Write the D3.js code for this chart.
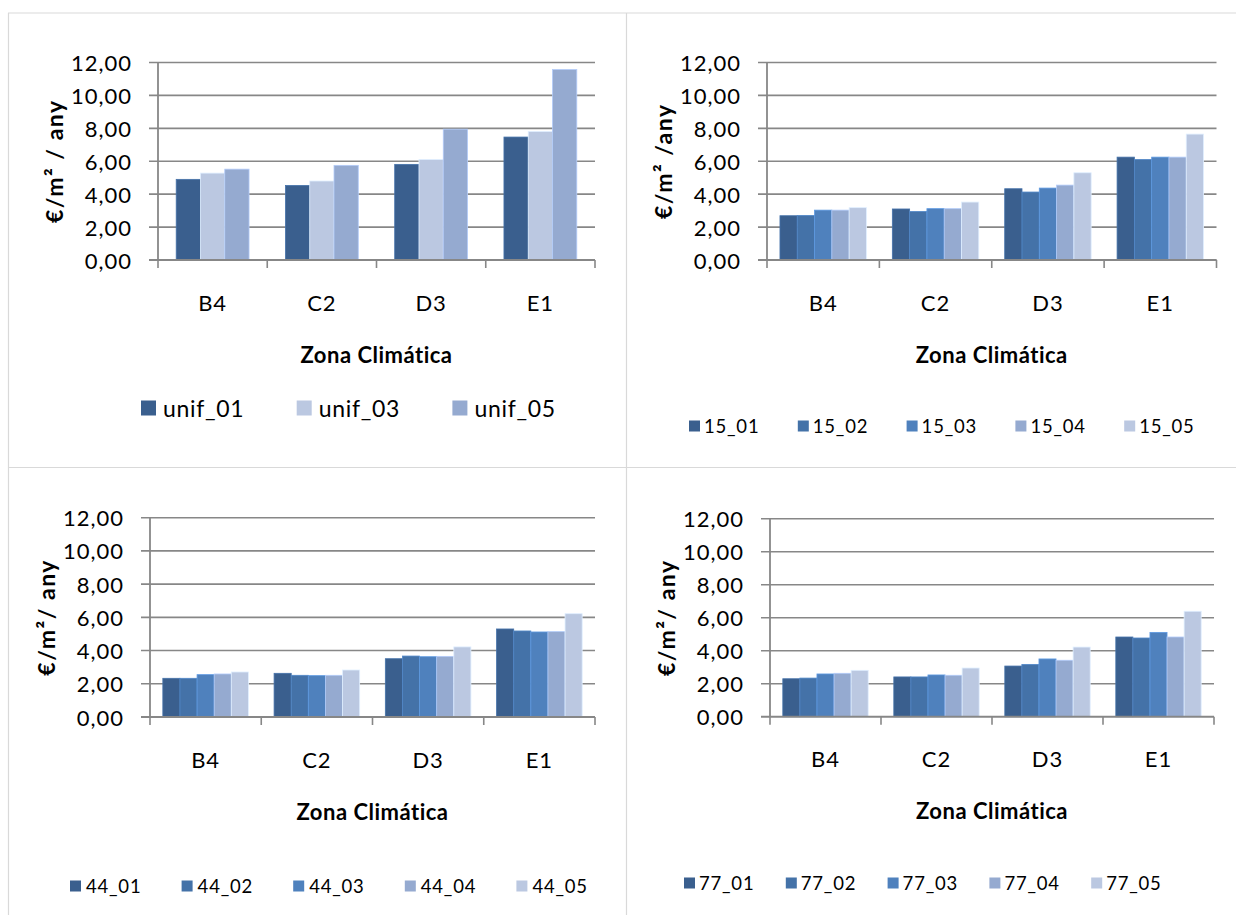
<!DOCTYPE html>
<html>
<head>
<meta charset="utf-8">
<script src="https://cdn.jsdelivr.net/npm/d3@7"></script>
<style>
  html, body { margin: 0; padding: 0; background: #ffffff; }
  svg { display: block; }
  text { font-family: Lato, "Open Sans", "Noto Sans", sans-serif; fill: #000; }
</style>
</head>
<body>
<svg id="chart" width="1236" height="915"></svg>
<script>
// Climate zones on the x axis and the value-axis ticks shared by every panel
const categories = ["B4", "C2", "D3", "E1"];
const yTicks = [0, 2, 4, 6, 8, 10, 12];

// Panel A: uniform cases
const seriesUnif = ["unif_01", "unif_03", "unif_05"];
const valuesUnif = [
  [4.90, 4.53, 5.81, 7.47],
  [5.28, 4.80, 6.11, 7.81],
  [5.52, 5.75, 7.95, 11.57]
];

// Panel B: 15 cases
const series15 = ["15_01", "15_02", "15_03", "15_04", "15_05"];
const values15 = [
  [2.69, 3.10, 4.33, 6.25],
  [2.71, 2.95, 4.13, 6.11],
  [3.03, 3.12, 4.37, 6.25],
  [3.03, 3.12, 4.55, 6.25],
  [3.18, 3.52, 5.30, 7.65]
];

// Panel C: 44 cases
const series44 = ["44_01", "44_02", "44_03", "44_04", "44_05"];
const values44 = [
  [2.33, 2.63, 3.51, 5.30],
  [2.33, 2.51, 3.67, 5.18],
  [2.55, 2.49, 3.63, 5.12],
  [2.59, 2.51, 3.65, 5.14],
  [2.71, 2.83, 4.22, 6.22]
];

// Panel D: 77 cases
const series77 = ["77_01", "77_02", "77_03", "77_04", "77_05"];
const values77 = [
  [2.30, 2.41, 3.07, 4.83],
  [2.34, 2.41, 3.17, 4.77],
  [2.59, 2.53, 3.50, 5.11],
  [2.63, 2.51, 3.42, 4.83],
  [2.81, 2.95, 4.22, 6.39]
];

const colorsUnif = ["#3A5F8E", "#BBC8E1", "#95AAD0"];
const colorsFive = ["#3A5F8E", "#4472A8", "#4F81BD", "#95AAD0", "#BBC8E1"];

const svg = d3.select("#chart");
const GRID = "#878787";

// Frame lines separating the four chart areas
const frame = svg.append("g").attr("stroke", "#d9d9d9").attr("stroke-width", 1.2);
frame.append("line").attr("x1", 8).attr("x2", 1236).attr("y1", 13).attr("y2", 13);
frame.append("line").attr("x1", 8).attr("x2", 1236).attr("y1", 467.5).attr("y2", 467.5);
frame.append("line").attr("x1", 8.5).attr("x2", 8.5).attr("y1", 13).attr("y2", 915);
frame.append("line").attr("x1", 626.5).attr("x2", 626.5).attr("y1", 13).attr("y2", 915);

const panels = [
  { series: seriesUnif, values: valuesUnif, colors: colorsUnif, yTitle: "€/m² / any",
    x0: 158, x1: 595, yTop: 62.5, yBase: 260,
    legend: { x: 141, step: 155.7, y: 408, sq: 15, gap: 22, size: 23, ls: 0.7 } },
  { series: series15, values: values15, colors: colorsFive, yTitle: "€/m² /any",
    x0: 767, x1: 1216.5, yTop: 62.5, yBase: 260,
    legend: { x: 689, step: 108.8, y: 426, sq: 11, gap: 15, size: 18.5, ls: 0.8 } },
  { series: series44, values: values44, colors: colorsFive, yTitle: "€/m²/ any",
    x0: 150, x1: 595, yTop: 517.7, yBase: 717,
    legend: { x: 70, step: 111.6, y: 886, sq: 11, gap: 16, size: 18.5, ls: 0.8 } },
  { series: series77, values: values77, colors: colorsFive, yTitle: "€/m²/ any",
    x0: 770, x1: 1214, yTop: 518.7, yBase: 716.7,
    legend: { x: 684, step: 101.8, y: 883, sq: 11, gap: 15, size: 18.5, ls: 0.8 } }
];

const fmt = v => d3.format(".2f")(v).replace(".", ",");

panels.forEach(p => {
  const g = svg.append("g");

  const x = d3.scaleBand().domain(categories).range([p.x0, p.x1]).paddingInner(0).paddingOuter(0);
  const y = d3.scaleLinear().domain([0, 12]).range([p.yBase, p.yTop]);
  // 150% gap width: bars take n / (n + 1.5) of each category, centred
  const n = p.series.length;
  const barW = x.bandwidth() / (n + 1.5);
  const off = barW * 0.75;

  // Horizontal gridlines with left tick stubs
  g.append("g").selectAll("line").data(yTicks).join("line")
    .attr("x1", p.x0 - 9).attr("x2", p.x1)
    .attr("y1", d => y(d)).attr("y2", d => y(d))
    .attr("stroke", GRID).attr("stroke-width", 1.6);

  // Y tick labels
  g.append("g").selectAll("text").data(yTicks).join("text")
    .attr("x", p.x0 - 26).attr("y", d => y(d))
    .attr("text-anchor", "end").attr("dominant-baseline", "central")
    .style("font-size", "22px").style("letter-spacing", "1px")
    .text(fmt);

  // Bars
  p.series.forEach((s, si) => {
    g.append("g").selectAll("rect").data(p.values[si]).join("rect")
      .attr("x", (d, ci) => x(categories[ci]) + off + si * barW)
      .attr("width", barW)
      .attr("y", d => y(d))
      .attr("height", d => y(0) - y(d))
      .attr("fill", p.colors[si])
      .attr("stroke", d3.color(p.colors[si]).brighter(0.5))
      .attr("stroke-width", 0.8);
  });

  // Axis lines and category ticks
  g.append("line").attr("x1", p.x0).attr("x2", p.x0).attr("y1", p.yTop).attr("y2", p.yBase)
    .attr("stroke", GRID).attr("stroke-width", 1.8);
  g.append("line").attr("x1", p.x0 - 9).attr("x2", p.x1).attr("y1", p.yBase).attr("y2", p.yBase)
    .attr("stroke", GRID).attr("stroke-width", 1.8);
  const bounds = categories.map(c => x(c)).concat([p.x1]);
  g.append("g").selectAll("line").data(bounds).join("line")
    .attr("x1", d => d).attr("x2", d => d)
    .attr("y1", p.yBase).attr("y2", p.yBase + 8)
    .attr("stroke", GRID).attr("stroke-width", 1.6);

  // Category labels
  g.append("g").selectAll("text").data(categories).join("text")
    .attr("x", d => x(d) + x.bandwidth() / 2).attr("y", p.yBase + 42)
    .attr("text-anchor", "middle").attr("dominant-baseline", "central")
    .style("font-size", "22px").style("letter-spacing", "1px")
    .text(d => d);

  // Axis titles
  g.append("text")
    .attr("x", (p.x0 + p.x1) / 2).attr("y", p.yBase + 94)
    .attr("text-anchor", "middle").attr("dominant-baseline", "central")
    .style("font-size", "22px").style("font-weight", "bold").style("letter-spacing", "0.5px")
    .text("Zona Climática");
  g.append("text")
    .attr("transform", `translate(${p.x0 - 104},${(p.yTop + p.yBase) / 2}) rotate(-90)`)
    .attr("text-anchor", "middle").attr("dominant-baseline", "central")
    .style("font-size", "23px").style("font-weight", "bold").style("letter-spacing", "1.5px")
    .text(p.yTitle);

  // Legend
  const L = p.legend;
  const items = g.append("g").selectAll("g").data(p.series).join("g")
    .attr("transform", (d, i) => `translate(${L.x + i * L.step},${L.y})`);
  items.append("rect")
    .attr("x", 0).attr("y", -L.sq / 2).attr("width", L.sq).attr("height", L.sq)
    .attr("fill", (d, i) => p.colors[i]);
  items.append("text")
    .attr("x", L.gap).attr("y", 0).attr("dominant-baseline", "central")
    .style("font-size", L.size + "px").style("letter-spacing", L.ls + "px")
    .text(d => d);
});
</script>
</body>
</html>
